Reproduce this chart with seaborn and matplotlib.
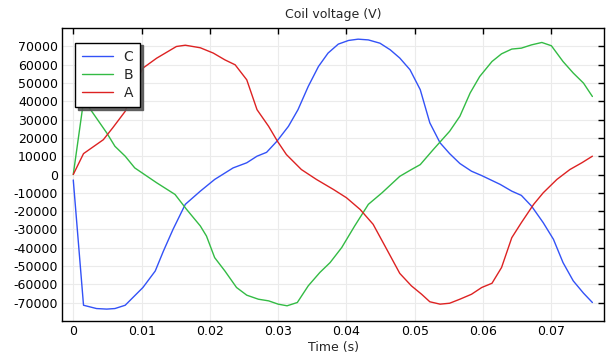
import numpy as np
import pandas as pd
import matplotlib
matplotlib.use("Agg")
import matplotlib.pyplot as plt
import seaborn as sns

# ---- data ----
t_C = [0.0, 0.0015, 0.0034, 0.0049, 0.0061, 0.0076, 0.0102, 0.0120, 0.0132, 0.0146,
       0.0164, 0.0186, 0.0207, 0.0234, 0.0254, 0.0269, 0.0283, 0.0298, 0.0315, 0.0329,
       0.0344, 0.0359, 0.0373, 0.0388, 0.0403, 0.0417, 0.0432, 0.0449, 0.0464, 0.0478,
       0.0493, 0.0508, 0.0522, 0.0537, 0.0551, 0.0566, 0.0583, 0.0598, 0.0625, 0.0642,
       0.0656, 0.0671, 0.0688, 0.0703, 0.0717, 0.0732, 0.0747, 0.0760]
v_C = [-3000, -71400, -73200, -73500, -73200, -71400, -61700, -52700, -41800, -30000,
       -16300, -9100, -2700, 3600, 6400, 10000, 12100, 18100, 26300, 35400,
       48100, 59000, 66300, 71200, 73200, 73900, 73500, 71700, 68100, 63600,
       57200, 46300, 28200, 17300, 11400, 6000, 1800, -600, -5400, -9100,
       -11400, -17300, -26300, -35400, -48100, -58100, -64800, -69900]

t_B = [0.0, 0.0015, 0.0022, 0.0049, 0.0061, 0.0076, 0.0090, 0.0122, 0.0149, 0.0166,
       0.0186, 0.0195, 0.0207, 0.0222, 0.0239, 0.0254, 0.0271, 0.0286, 0.0300, 0.0313,
       0.0328, 0.0344, 0.0361, 0.0376, 0.0393, 0.0412, 0.0432, 0.0452, 0.0478, 0.0495,
       0.0508, 0.0527, 0.0551, 0.0566, 0.0581, 0.0595, 0.0613, 0.0627, 0.0642, 0.0656,
       0.0671, 0.0686, 0.0700, 0.0717, 0.0732, 0.0747, 0.0760]
v_B = [0, 40000, 37200, 22700, 15400, 10000, 3600, -4500, -10900, -19100,
       -28100, -33600, -45400, -52700, -61700, -65900, -68100, -69000, -70800, -71700,
       -69900, -60800, -53500, -48100, -39900, -28100, -16300, -10000, -1000, 2700,
       5400, 13600, 23600, 31800, 44500, 53500, 61700, 65900, 68500, 69000,
       70800, 72100, 70300, 61700, 55400, 49900, 42600]

t_A = [0.0, 0.0015, 0.0044, 0.0058, 0.0076, 0.0093, 0.0102, 0.0122, 0.0151, 0.0164,
       0.0186, 0.0205, 0.0222, 0.0237, 0.0254, 0.0269, 0.0286, 0.0299, 0.0312, 0.0334,
       0.0356, 0.0381, 0.0400, 0.0420, 0.0439, 0.0459, 0.0478, 0.0495, 0.0510, 0.0522,
       0.0537, 0.0551, 0.0566, 0.0583, 0.0598, 0.0613, 0.0627, 0.0642, 0.0656, 0.0674,
       0.0688, 0.0708, 0.0727, 0.0745, 0.0760]
v_A = [0, 11400, 19000, 25600, 34500, 51700, 58100, 63500, 69900, 70600,
       69200, 66300, 62600, 59900, 51700, 35400, 26300, 18100, 10900, 2700,
       -2700, -8200, -12700, -19100, -27200, -40900, -54000, -60800, -65400, -69500,
       -70800, -70300, -68100, -65400, -61700, -59400, -50800, -34500, -26300, -16300,
       -10000, -2700, 2700, 6500, 10000]

series_names = ["C", "B", "A"]
series_colors = ["#3352f7", "#33bb44", "#dd2222"]

x_ticks = [0, 0.01, 0.02, 0.03, 0.04, 0.05, 0.06, 0.07]
x_tick_labels = ["0", "0.01", "0.02", "0.03", "0.04", "0.05", "0.06", "0.07"]
y_ticks = list(range(-70000, 70001, 10000))

# ---- build long-form table ----
frames = []
for name, t, v in zip(series_names, [t_C, t_B, t_A], [v_C, v_B, v_A]):
    frames.append(pd.DataFrame({"Time (s)": t, "V": v, "series": name}))
df = pd.concat(frames, ignore_index=True)

sns.set_style("white")
plt.rcParams["font.family"] = ["DejaVu Sans"]
plt.rcParams["axes.unicode_minus"] = False

fig = plt.figure(figsize=(6.08, 3.56), dpi=100)
ax = fig.add_axes([62 / 608, 1 - 321 / 356, 542 / 608, 293 / 356])

sns.lineplot(data=df, x="Time (s)", y="V", hue="series", hue_order=series_names,
             palette=series_colors, estimator=None, sort=True, linewidth=1.0, ax=ax)

ax.set_xlim(-0.00165, 0.0777)
ax.set_ylim(-80000, 80000)
ax.set_xticks(x_ticks)
ax.set_xticklabels(x_tick_labels)
ax.set_yticks(y_ticks)
ax.set_yticklabels([str(v) for v in y_ticks])
ax.grid(True, color="#ebebeb", linewidth=0.8)
ax.set_axisbelow(True)

for s in ax.spines.values():
    s.set_visible(True)
    s.set_color("black")
    s.set_linewidth(1.0)

ax.tick_params(axis="both", which="both", direction="in", length=4, width=1.0,
               top=True, right=True, labelsize=9, colors="black", pad=3)
ax.tick_params(axis="y", right=True, labelright=False)
ax.tick_params(axis="x", top=True, labeltop=False)

ax.set_xlabel("Time (s)", fontsize=9, labelpad=2)
ax.set_ylabel("")
ax.set_title("Coil voltage (V)", fontsize=9, pad=7)

handles, labels = ax.get_legend_handles_labels()
leg = ax.legend(handles, labels, loc="upper left", bbox_to_anchor=(0.024, 0.95),
                borderaxespad=0, fancybox=False,
                shadow={"color": "#555555", "alpha": 0.9}, frameon=True,
                fontsize=10, handlelength=2.2, borderpad=0.5, labelspacing=0.3)
leg.get_frame().set_edgecolor("black")
leg.get_frame().set_linewidth(1.0)
leg.get_frame().set_alpha(1.0)

fig.savefig("out.png", dpi=100)
